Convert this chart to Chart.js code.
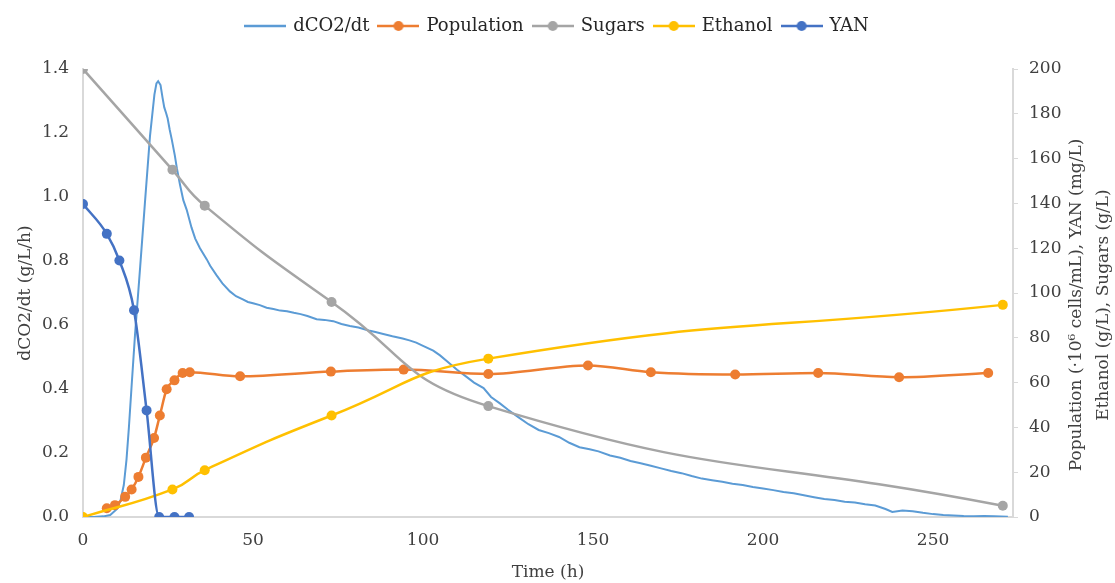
<!DOCTYPE html>
<html>
<head>
<meta charset="utf-8">
<script src="https://cdn.jsdelivr.net/npm/chart.js@4/dist/chart.umd.min.js"></script>
<style>
  html, body { margin: 0; padding: 0; background: #fff; }
  #wrap { width: 1115px; height: 583px; }
</style>
</head>
<body>
<div id="wrap"><canvas id="chart"></canvas></div>
<script>
// dCO2/dt trace (left axis, g/L/h)
const co2Time = [0, 3, 6, 8, 10, 11, 12, 12.8, 13.5, 14.3, 15.3, 16.8, 18.2, 19.7, 21, 21.6, 22.1, 22.8, 23.4, 23.9, 24.5, 24.9, 25.5, 26.1, 27, 27.6, 28.5, 29.5, 30.5, 31.9, 33, 34.4, 36.4, 37.4, 39.3, 41, 43.2, 45, 47, 48.5, 50, 52, 54, 56, 58, 60, 62, 64, 66, 68.7, 71, 73.6, 76, 78.5, 81, 84, 86, 88.3, 91, 94, 96, 98, 100, 103, 105, 108, 110, 112.9, 115, 117.8, 120, 122.6, 125, 128, 131, 134, 137, 140, 143, 146, 149, 151.6, 155, 158, 161, 164, 167, 170, 173, 176, 179, 182, 185, 188, 191, 194, 197, 200, 203, 206, 209, 212, 215, 218, 221, 224, 227, 230, 233, 236, 238, 241, 244, 247, 250, 253, 256, 259, 262, 265, 268, 272];
const co2Rate = [0, 0, 0.002, 0.006, 0.025, 0.05, 0.1, 0.18, 0.28, 0.41, 0.57, 0.78, 0.98, 1.19, 1.32, 1.355, 1.362, 1.35, 1.31, 1.28, 1.26, 1.245, 1.21, 1.18, 1.13, 1.09, 1.04, 0.99, 0.96, 0.905, 0.87, 0.84, 0.805, 0.785, 0.755, 0.73, 0.705, 0.69, 0.68, 0.672, 0.668, 0.662, 0.654, 0.65, 0.645, 0.643, 0.638, 0.634, 0.628, 0.618, 0.616, 0.612, 0.603, 0.597, 0.592, 0.583, 0.578, 0.572, 0.565, 0.558, 0.552, 0.545, 0.535, 0.52, 0.505, 0.478, 0.46, 0.437, 0.42, 0.403, 0.375, 0.355, 0.335, 0.312, 0.29, 0.272, 0.262, 0.25, 0.232, 0.218, 0.212, 0.205, 0.192, 0.185, 0.175, 0.168, 0.16, 0.152, 0.144, 0.137, 0.128, 0.12, 0.115, 0.11, 0.104, 0.1, 0.094, 0.089, 0.084, 0.078, 0.074, 0.068, 0.062, 0.056, 0.053, 0.048, 0.045, 0.04, 0.036, 0.025, 0.016, 0.02, 0.018, 0.013, 0.009, 0.006, 0.005, 0.003, 0.002, 0.003, 0.002, 0.001];

// right axis series
const popTime = [7, 9.4, 12.4, 14.3, 16.3, 18.5, 20.9, 22.6, 24.6, 26.9, 29.3, 31.4, 46.2, 72.9, 94.3, 119.2, 148.5, 167, 191.8, 216.2, 240, 266.2];
const population = [3.9, 5.3, 9, 12.3, 17.9, 26.5, 35.3, 45.3, 57, 61, 64.3, 64.6, 62.8, 64.9, 65.8, 63.8, 67.6, 64.6, 63.6, 64.3, 62.4, 64.3];

const sampleTime = [0, 26.3, 35.8, 73.1, 119.2, 270.5];
const sugars = [200, 155, 139, 96, 49.5, 5];
const ethanol = [0, 12.3, 20.9, 45.3, 70.7, 94.7];

const yanTime = [0, 7, 10.7, 15, 18.7, 22.4, 26.9, 31.2];
const yan = [139.7, 126.4, 114.5, 92.3, 47.6, 0, 0, 0];

const seriesNames = ['dCO2/dt', 'Population', 'Sugars', 'Ethanol', 'YAN'];
const seriesColors = ['#5B9BD5', '#ED7D31', '#A5A5A5', '#FFC000', '#4472C4'];

const xTicks = [0, 50, 100, 150, 200, 250];
const rightTitle = ['Population (·10⁶ cells/mL), YAN (mg/L)', 'Ethanol (g/L), Sugars (g/L)'];

const fontFamily = "'DejaVu Serif', 'Liberation Serif', serif";
const textColor = '#404040';
const axisColor = '#D9D9D9';
const legendGap = 24; // extra space under the legend row

function pairs(xs, ys) {
    return xs.map((x, i) => ({ x: x, y: ys[i] }));
}

// little line + dot pictures for the legend
function legendIcon(color, withDot) {
    const c = document.createElement('canvas');
    c.width = 42;
    c.height = 12;
    const g = c.getContext('2d');
    g.strokeStyle = color;
    g.lineWidth = 2.5;
    g.beginPath();
    g.moveTo(0, 6);
    g.lineTo(42, 6);
    g.stroke();
    if (withDot) {
        g.fillStyle = color;
        g.beginPath();
        g.arc(21, 6, 5, 0, Math.PI * 2);
        g.fill();
    }
    return c;
}
const legendIcons = seriesColors.map((c, i) => legendIcon(c, i > 0));

// smooth: 'monotone' or a tension number (Excel-like smoothing)
function markerSeries(i, data, axis, order, smooth) {
    const ds = {
        label: seriesNames[i],
        data: data,
        yAxisID: axis,
        borderColor: seriesColors[i],
        backgroundColor: seriesColors[i],
        borderWidth: 2.5,
        pointRadius: 5,
        pointBorderWidth: 0,
        order: order
    };
    if (smooth === 'monotone') {
        ds.cubicInterpolationMode = 'monotone';
    } else {
        ds.tension = smooth;
    }
    return ds;
}

// push the plot down a bit below the legend
const legendSpacePlugin = {
    id: 'legendSpace',
    beforeLayout(chart) {
        const legend = chart.legend;
        if (legend && !legend._padded) {
            const fit = legend.fit;
            legend.fit = function() {
                fit.call(this);
                this.height += legendGap;
            };
            legend._padded = true;
        }
    }
};

// right axis title reads bottom-to-top, so it is drawn here
const rightTitlePlugin = {
    id: 'rightTitle',
    afterDraw(chart) {
        const ctx = chart.ctx;
        const scale = chart.scales.y2;
        const cy = (chart.chartArea.top + chart.chartArea.bottom) / 2 + 12;
        ctx.save();
        ctx.fillStyle = textColor;
        ctx.font = '17px ' + fontFamily;
        ctx.textAlign = 'center';
        ctx.textBaseline = 'middle';
        rightTitle.forEach((line, i) => {
            ctx.save();
            ctx.translate(scale.left + 64 + i * 27, cy);
            ctx.rotate(-Math.PI / 2);
            ctx.fillText(line, 0, 0);
            ctx.restore();
        });
        ctx.restore();
    }
};

Chart.defaults.font.family = fontFamily;
Chart.defaults.font.size = 17;
Chart.defaults.color = textColor;

new Chart(document.getElementById('chart'), {
    type: 'line',
    data: {
        datasets: [
            {
                label: seriesNames[0],
                data: pairs(co2Time, co2Rate),
                yAxisID: 'y',
                borderColor: seriesColors[0],
                backgroundColor: seriesColors[0],
                borderWidth: 2,
                pointRadius: 0,
                tension: 0,
                order: 5
            },
            markerSeries(1, pairs(popTime, population), 'y2', 4, 'monotone'),
            markerSeries(2, pairs(sampleTime, sugars), 'y2', 3, 0.5),
            markerSeries(3, pairs(sampleTime, ethanol), 'y2', 2, 0.5),
            markerSeries(4, pairs(yanTime, yan), 'y2', 1, 'monotone')
        ]
    },
    options: {
        responsive: true,
        maintainAspectRatio: false,
        animation: false,
        layout: {
            padding: { top: 7 }
        },
        plugins: {
            legend: {
                position: 'top',
                labels: {
                    usePointStyle: true,
                    pointStyleWidth: 38,
                    boxHeight: 12,
                    padding: 10,
                    color: '#262626',
                    font: { size: 18 },
                    sort: (a, b) => a.datasetIndex - b.datasetIndex,
                    generateLabels: function(chart) {
                        const items = Chart.defaults.plugins.legend.labels.generateLabels(chart);
                        return items.map((item) => Object.assign(item, { pointStyle: legendIcons[item.datasetIndex] }));
                    }
                }
            },
            tooltip: { enabled: false }
        },
        scales: {
            x: {
                type: 'linear',
                position: 'bottom',
                min: 0,
                max: 273.5,
                afterBuildTicks: function(scale) {
                    scale.ticks = xTicks.map((v) => ({ value: v }));
                },
                afterFit: function(scale) {
                    scale.height = 66;
                },
                ticks: { padding: 5, color: textColor },
                grid: { display: false },
                border: { display: true, color: axisColor, width: 2 },
                title: {
                    display: true,
                    text: 'Time (h)',
                    color: textColor,
                    font: { size: 17 },
                    padding: { top: 4, bottom: 0 }
                }
            },
            y: {
                position: 'left',
                min: 0,
                max: 1.4,
                afterFit: function(scale) {
                    scale.width = 83;
                },
                ticks: {
                    stepSize: 0.2,
                    padding: 6,
                    color: textColor,
                    callback: (v) => v.toFixed(1)
                },
                grid: { display: false },
                border: { display: true, color: axisColor, width: 2 },
                title: {
                    display: true,
                    text: 'dCO2/dt (g/L/h)',
                    color: textColor,
                    font: { size: 17 },
                    padding: { top: 15, bottom: 2 }
                }
            },
            y2: {
                position: 'right',
                min: 0,
                max: 200,
                afterFit: function(scale) {
                    scale.width = 102;
                },
                ticks: { stepSize: 20, padding: 11, color: textColor },
                grid: {
                    display: true,
                    drawOnChartArea: false,
                    tickLength: 5,
                    color: axisColor
                },
                border: { display: true, color: axisColor, width: 2 }
            }
        }
    },
    plugins: [legendSpacePlugin, rightTitlePlugin]
});
</script>
</body>
</html>
